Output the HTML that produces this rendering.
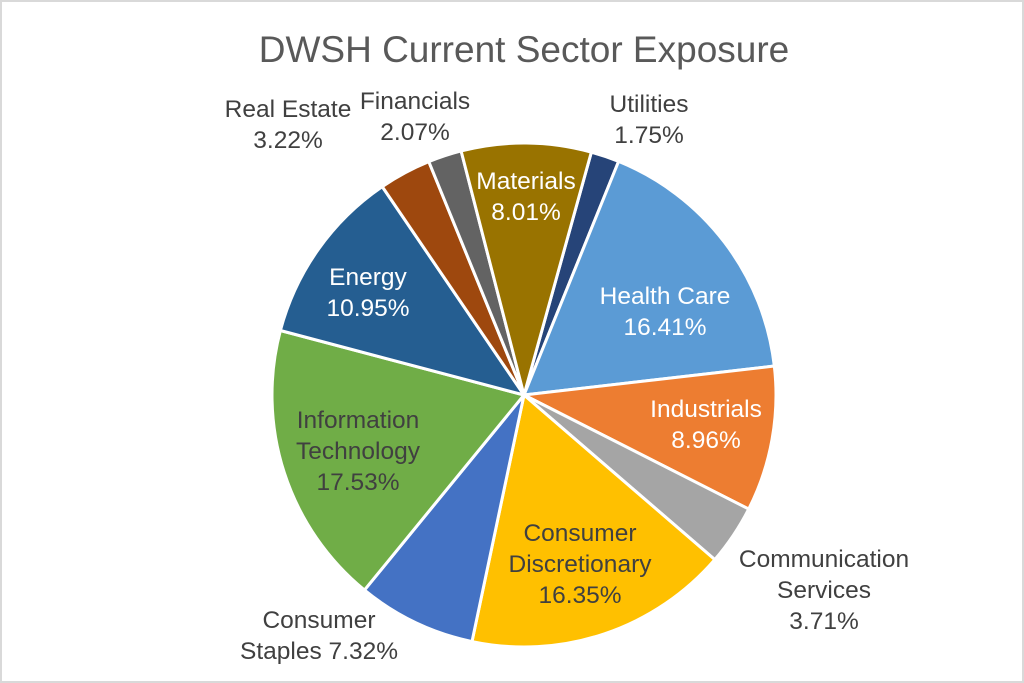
<!DOCTYPE html>
<html><head><meta charset="utf-8"><style>
html,body{margin:0;padding:0;background:#fff}
#c{position:relative;width:1020px;height:679px;border:2px solid #d9d9d9;overflow:hidden;font-family:"Liberation Sans",sans-serif;}
.t{position:absolute;text-align:center;font-size:24.5px;line-height:31px;color:#404040;white-space:nowrap;transform:translateX(-50%)}
.w{color:#fff}
</style></head><body><div id="c">
<svg id="s" width="1020" height="679" style="position:absolute;left:0;top:0"></svg>
<div class="t" style="left:522px;top:26px;font-size:37px;line-height:44px;color:#595959">DWSH Current Sector Exposure</div>
<div class="t" style="left:286px;top:92px">Real Estate<br>3.22%</div>
<div class="t" style="left:413px;top:84px">Financials<br>2.07%</div>
<div class="t" style="left:647px;top:87px">Utilities<br>1.75%</div>
<div class="t w" style="left:524px;top:164px">Materials<br>8.01%</div>
<div class="t w" style="left:663px;top:279px">Health Care<br>16.41%</div>
<div class="t w" style="left:704px;top:392px">Industrials<br>8.96%</div>
<div class="t" style="left:822px;top:542px">Communication<br>Services<br>3.71%</div>
<div class="t" style="left:578px;top:516px">Consumer<br>Discretionary<br>16.35%</div>
<div class="t" style="left:317px;top:603px">Consumer<br>Staples 7.32%</div>
<div class="t" style="left:356px;top:403px">Information<br>Technology<br>17.53%</div>
<div class="t w" style="left:366px;top:260px">Energy<br>10.95%</div>
</div>
<script>
var d=[[1.75,"#264478"],[16.41,"#5b9bd5"],[8.96,"#ed7d31"],[3.71,"#a5a5a5"],[16.35,"#ffc000"],[7.32,"#4472c4"],[17.53,"#70ad47"],[10.95,"#255e91"],[3.22,"#9e480e"],[2.07,"#636363"],[8.01,"#997300"]];
var tot=0;d.forEach(function(x){tot+=x[0]});
var cx=522,cy=393,r=252,a=15.5,h="";
function p(an){var t=an*Math.PI/180;return (cx+r*Math.sin(t)).toFixed(2)+","+(cy-r*Math.cos(t)).toFixed(2);}
d.forEach(function(x){var s=x[0]/tot*360,b=a+s;
h+='<path d="M'+cx+','+cy+' L'+p(a)+' A'+r+','+r+' 0 '+(s>180?1:0)+' 1 '+p(b)+' Z" fill="'+x[1]+'" stroke="#fff" stroke-width="3" stroke-linejoin="round"/>';a=b;});
document.getElementById("s").innerHTML=h;
</script>
</body></html>
